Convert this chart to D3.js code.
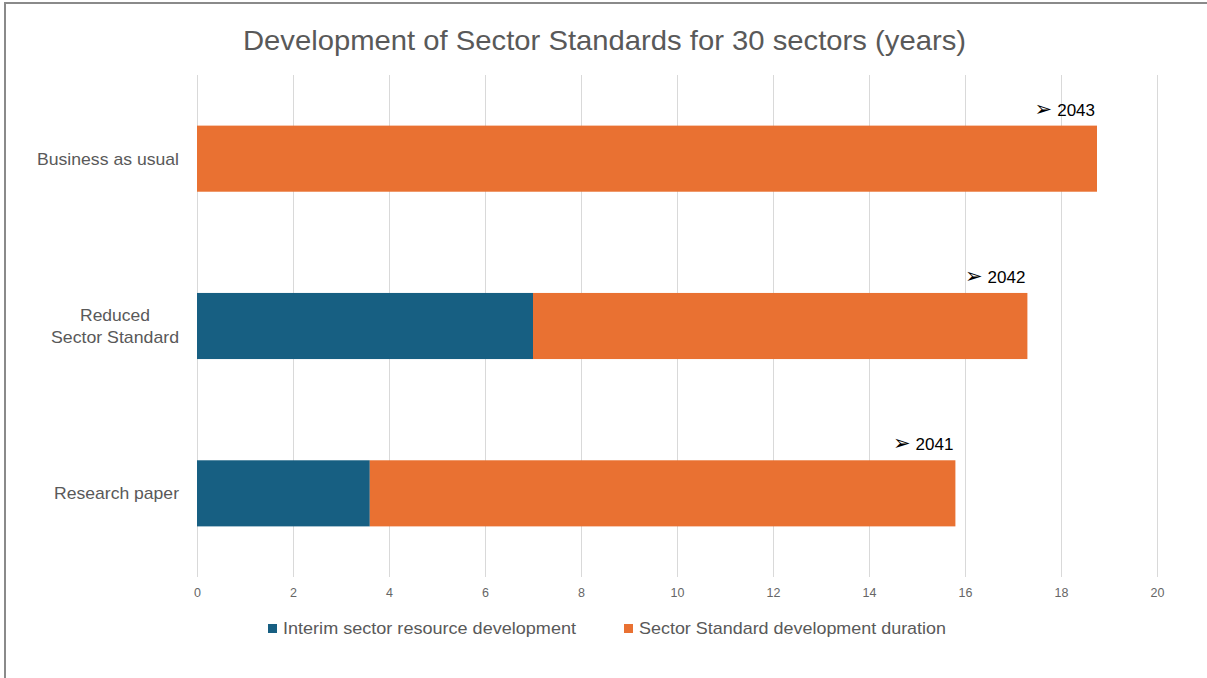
<!DOCTYPE html>
<html><head><meta charset="utf-8">
<script src="https://cdn.jsdelivr.net/npm/d3@7"></script>
<style>body{margin:0;background:#fff}svg{display:block}</style>
</head><body>
<svg id="c" width="1207" height="678"></svg>
<script>
const categories = ["Business as usual", "Reduced\nSector Standard", "Research paper"];
const interim = [0, 7.0, 3.6];
const standard = [18.75, 10.3, 12.2];
const endYears = ["2043", "2042", "2041"];
const seriesNames = ["Interim sector resource development", "Sector Standard development duration"];
const colors = ["#175f82", "#e97132"];
const xTicks = [0,2,4,6,8,10,12,14,16,18,20];

const svg = d3.select("#c");
const font = "'Liberation Sans', Arial, sans-serif";
svg.append("rect").attr("width",1207).attr("height",678).attr("fill","#fff");
svg.append("line").attr("x1",4).attr("x2",1207).attr("y1",3).attr("y2",3).attr("stroke","#8a8a8a").attr("stroke-width",2);
svg.append("line").attr("x1",5).attr("x2",5).attr("y1",3).attr("y2",678).attr("stroke","#8a8a8a").attr("stroke-width",2);

const x = d3.scaleLinear().domain([0,20]).range([197,1157]);
const y = d3.scaleBand().domain(categories).range([75,577]).paddingInner(0.605).paddingOuter(0.3025);

svg.append("g").selectAll("line").data(xTicks).join("line")
  .attr("x1",d=>x(d)+0.5).attr("x2",d=>x(d)+0.5).attr("y1",75).attr("y2",577)
  .attr("stroke","#d9d9d9").attr("stroke-width",1);

const ax = d3.axisBottom(x).tickValues(xTicks).tickSize(0).tickPadding(0);
const gAx = svg.append("g").attr("transform","translate(0,588)").call(ax);
gAx.select(".domain").remove();
gAx.selectAll("text").attr("font-family",font).attr("font-size",12.5).attr("fill","#666666").attr("dy","0.71em");

const data = categories.map((c,i)=>({c, a:interim[i], b:standard[i], yr:endYears[i]}));
const stack = d3.stack().keys(["a","b"])(data);
svg.append("g").selectAll("g").data(stack).join("g").attr("fill",(d,i)=>colors[i])
  .selectAll("rect").data(d=>d).join("rect")
  .attr("x",d=>x(d[0])).attr("width",d=>x(d[1])-x(d[0]))
  .attr("y",d=>y(d.data.c)).attr("height",y.bandwidth());

// annotations
const ann = svg.append("g").selectAll("text").data(data).join("text")
  .attr("x",d=>x(d.a+d.b)-2).attr("y",d=>y(d.c)-10)
  .attr("text-anchor","end").attr("font-family",font).attr("font-size",17).attr("fill","#000");
ann.append("tspan").attr("font-family","'DejaVu Sans', sans-serif").attr("font-size",21).text("\u27A2");
ann.append("tspan").attr("dx",5).text(d=>d.yr);

// category labels
const labW = {"Business as usual":142, "Reduced":70, "Sector Standard":128, "Research paper":125};
const yl = svg.append("g").selectAll("text").data(categories).join("text")
  .attr("font-family",font).attr("font-size",17).attr("fill","#595959")
  .attr("transform",d=>`translate(0,${y(d)+y.bandwidth()/2})`);
yl.each(function(d){
  const lines = d.split("\n");
  const t = d3.select(this);
  const maxW = d3.max(lines, l=>labW[l]);
  const cx = 179 - maxW/2;
  t.attr("text-anchor","middle");
  lines.forEach((l,i)=>{
    t.append("tspan").attr("x",cx).attr("y",(i-(lines.length-1)/2)*22).attr("dy","0.35em")
      .attr("textLength",labW[l]).attr("lengthAdjust","spacingAndGlyphs").text(l);
  });
});

svg.append("text").attr("x",604.5).attr("y",50).attr("text-anchor","middle")
  .attr("font-family",font).attr("font-size",28).attr("fill","#595959")
  .attr("textLength",723).attr("lengthAdjust","spacingAndGlyphs")
  .text("Development of Sector Standards for 30 sectors (years)");

const legX = [268, 624];
const legW = [293, 307];
const lg = svg.append("g").selectAll("g").data(seriesNames).join("g")
  .attr("transform",(d,i)=>`translate(${legX[i]},624)`);
lg.append("rect").attr("width",9).attr("height",9).attr("fill",(d,i)=>colors[i]);
lg.append("text").attr("x",15).attr("y",4.5).attr("dy","0.35em").attr("font-family",font)
  .attr("font-size",17).attr("fill","#595959")
  .attr("textLength",(d,i)=>legW[i]).attr("lengthAdjust","spacingAndGlyphs").text(d=>d);
</script>
</body></html>
